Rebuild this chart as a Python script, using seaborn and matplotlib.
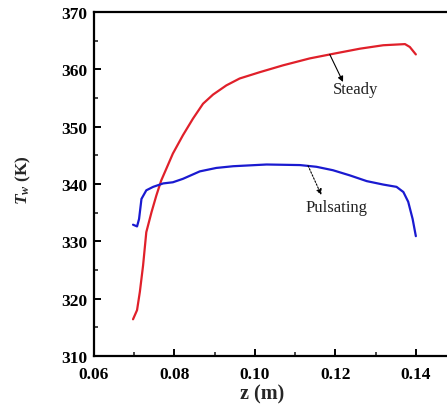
import matplotlib
matplotlib.use("Agg")
import matplotlib.pyplot as plt
from matplotlib.ticker import MultipleLocator
import seaborn as sns
import pandas as pd

sns.set_theme(style="white")
plt.rcParams["font.family"] = ["Liberation Serif", "DejaVu Serif"]
plt.rcParams["mathtext.fontset"] = "custom"
plt.rcParams["mathtext.it"] = "Liberation Serif:italic:bold"
plt.rcParams["mathtext.rm"] = "Liberation Serif:bold"

# Wall temperature along the channel, steady flow
steady_z = [0.0697, 0.0707, 0.0714, 0.0722, 0.0730, 0.0743, 0.0755, 0.0767,
            0.0780, 0.0796, 0.0821, 0.0846, 0.0871, 0.0896, 0.0929, 0.0962,
            0.1012, 0.1070, 0.1136, 0.1194, 0.1261, 0.1319, 0.1373, 0.1385,
            0.1400]
steady_T = [316.4, 318.0, 321.2, 325.8, 331.6, 335.1, 338.0, 340.6,
            342.7, 345.3, 348.5, 351.4, 354.0, 355.6, 357.2, 358.4,
            359.5, 360.7, 361.9, 362.7, 363.6, 364.2, 364.4, 363.9,
            362.6]

# Wall temperature along the channel, pulsating flow
pulse_z = [0.0697, 0.0707, 0.0712, 0.0718, 0.0730, 0.0747, 0.0772, 0.0796,
           0.0821, 0.0863, 0.0904, 0.0946, 0.1029, 0.1112, 0.1153, 0.1194,
           0.1236, 0.1278, 0.1319, 0.1352, 0.1369, 0.1381, 0.1392, 0.1400]
pulse_T = [332.9, 332.6, 333.9, 337.4, 338.9, 339.5, 340.1, 340.3,
           340.9, 342.2, 342.8, 343.1, 343.4, 343.3, 343.0, 342.4,
           341.5, 340.5, 339.9, 339.5, 338.6, 336.9, 333.9, 330.9]

x_ticks = [0.06, 0.08, 0.10, 0.12, 0.14]
y_ticks = [310, 320, 330, 340, 350, 360, 370]

df_s = pd.DataFrame({"z": steady_z, "T": steady_T})
df_p = pd.DataFrame({"z": pulse_z, "T": pulse_T})

fig = plt.figure(figsize=(4.47, 4.06), dpi=100)
ax = fig.add_axes([0.2103, 0.1207, 0.81, 0.8473])

sns.lineplot(data=df_s, x="z", y="T", ax=ax, color="#e0202a", lw=1.6, sort=False)
sns.lineplot(data=df_p, x="z", y="T", ax=ax, color="#1a1ad0", lw=1.6, sort=False)

ax.set_xlim(0.06, 0.15)
ax.set_ylim(310, 370)
ax.set_xticks(x_ticks)
ax.set_xticklabels([f"{v:.2f}" for v in x_ticks])
ax.set_yticks(y_ticks)
ax.set_yticklabels([str(v) for v in y_ticks])
ax.xaxis.set_minor_locator(MultipleLocator(0.01))
ax.yaxis.set_minor_locator(MultipleLocator(5))

for s in ax.spines.values():
    s.set_color("black")
    s.set_linewidth(1.6)

ax.tick_params(which="major", direction="in", length=5, width=1.4,
               bottom=True, left=True, top=False, right=False,
               labelsize=12.5, colors="black")
ax.tick_params(axis="x", which="major", pad=7)
ax.tick_params(axis="y", which="major", pad=5)
ax.tick_params(which="minor", direction="in", length=3, width=1.2,
               bottom=True, left=True, top=False, right=False)
for lab in ax.get_xticklabels() + ax.get_yticklabels():
    lab.set_fontweight("bold")

ax.set_xlabel("z (m)", fontsize=14.5, fontweight="bold")
ax.xaxis.label.set_va("center")
ax.xaxis.set_label_coords(0.464, -0.109)
ax.set_ylabel(r"$T_w$ (K)", fontsize=12.5, fontweight="bold")
ax.yaxis.label.set_va("center")
ax.yaxis.set_label_coords(-0.196, 0.515)

ax.annotate("", xy=(0.1219, 357.8), xytext=(0.1186, 362.6),
            arrowprops=dict(arrowstyle="-|>", color="black", lw=0.8,
                            shrinkA=0, shrinkB=0, mutation_scale=8))
ax.text(0.1251, 356.5, "Steady", fontsize=12, ha="center", va="center",
        color="#222222")

ax.annotate("", xy=(0.1165, 338.1), xytext=(0.1132, 343.2),
            arrowprops=dict(arrowstyle="-|>", color="black", lw=0.8,
                            ls=(0, (1.5, 1.5)), shrinkA=0, shrinkB=0,
                            mutation_scale=8))
ax.text(0.1204, 336.0, "Pulsating", fontsize=12, ha="center", va="center",
        color="#222222")

fig.savefig("out.png", dpi=100)
